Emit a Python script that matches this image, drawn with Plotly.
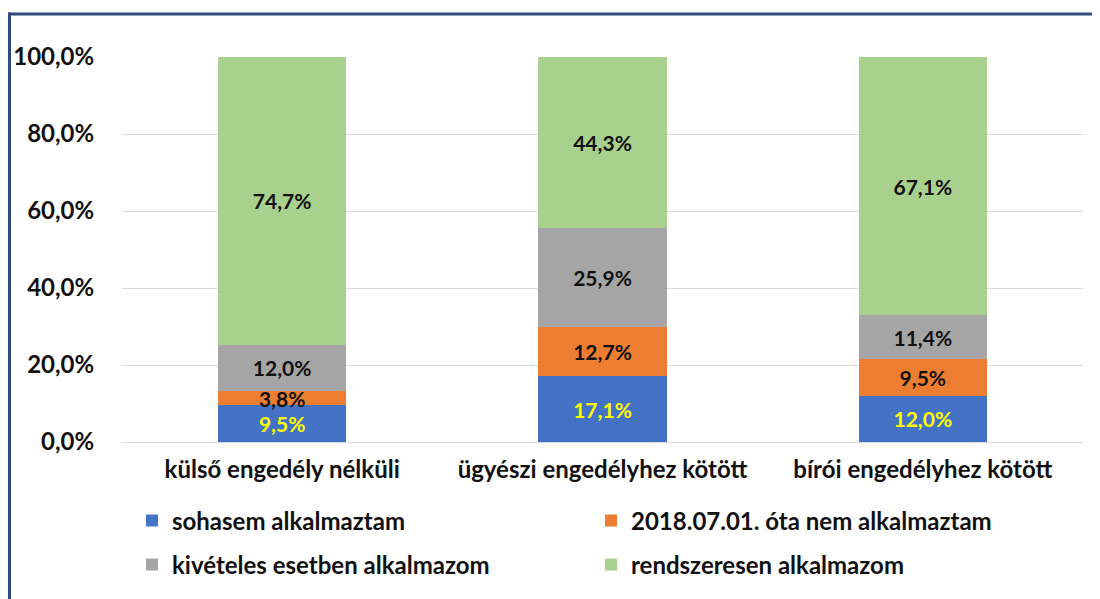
import plotly.graph_objects as go

categories = ["külső engedély nélküli", "ügyészi engedélyhez kötött", "bírói engedélyhez kötött"]
series_names = ["sohasem alkalmaztam", "2018.07.01. óta nem alkalmaztam",
                "kivételes esetben alkalmazom", "rendszeresen alkalmazom"]
sohasem = [9.5, 17.1, 12.0]
nem_2018 = [3.8, 12.7, 9.5]
kiveteles = [12.0, 25.9, 11.4]
rendszeresen = [74.7, 44.3, 67.1]
tick_vals = [0, 20, 40, 60, 80, 100]
tick_text = ["0,0%", "20,0%", "40,0%", "60,0%", "80,0%", "100,0%"]

colors = ["#4472C4", "#ED7D31", "#A5A5A5", "#A9D18E"]
label_colors = ["#FFFF00", "#111111", "#111111", "#111111"]
legends = ["legend", "legend", "legend2", "legend2"]
FONT = "Lato"

fig = go.Figure()
for name, vals, col, lc, lg in zip(series_names, [sohasem, nem_2018, kiveteles, rendszeresen],
                                   colors, label_colors, legends):
    fig.add_trace(go.Bar(
        x=categories, y=vals, name=name, marker_color=col, marker_line_width=0,
        texttemplate="%{y:.1f}%", textposition="inside", insidetextanchor="middle",
        constraintext="none",
        textfont=dict(color=lc, size=21, family=FONT, weight="bold"),
        legend=lg,
    ))

# page body has an 8px offset; target pixel positions are corrected by OFF
OFF = 8
W, H = 1100 - OFF, 599 - OFF
pw, ph = 961, 385
ml = 122 - OFF
mt = 57 - OFF
mr = W - ml - pw
mb = H - mt - ph

def px_x(x):
    return (x - OFF - ml) / pw

def px_y(y):
    return (mt + ph - (y - OFF)) / ph

frame = dict(color="#2E4B7C", width=3)
fig.update_layout(
    width=W, height=H, barmode="stack", bargap=0.6,
    separators=",.",
    paper_bgcolor="white", plot_bgcolor="white",
    margin=dict(l=ml, r=mr, t=mt, b=mb, autoexpand=False),
    font=dict(family=FONT, color="#111111", size=24),
    uniformtext=dict(minsize=21, mode="show"),
    xaxis=dict(showgrid=False, showline=False, ticks="outside", ticklen=6,
               tickcolor="rgba(0,0,0,0)",
               tickfont=dict(size=24, family=FONT, weight="bold")),
    yaxis=dict(range=[0, 100], tickvals=tick_vals, ticktext=tick_text,
               showgrid=True, gridcolor="#D9D9D9", gridwidth=1,
               zeroline=True, zerolinecolor="#D9D9D9", zerolinewidth=1,
               showline=False, ticks="outside", ticklen=22, tickcolor="rgba(0,0,0,0)",
               tickfont=dict(size=24, family=FONT, weight="bold")),
    legend=dict(orientation="h", x=px_x(132), y=px_y(521), xanchor="left", yanchor="middle",
                entrywidth=414, entrywidthmode="pixels", traceorder="normal",
                font=dict(size=24, family=FONT, weight="bold"), bgcolor="rgba(0,0,0,0)"),
    legend2=dict(orientation="h", x=px_x(132), y=px_y(565), xanchor="left", yanchor="middle",
                 entrywidth=414, entrywidthmode="pixels", traceorder="normal",
                 font=dict(size=24, family=FONT, weight="bold"), bgcolor="rgba(0,0,0,0)"),
    shapes=[
        dict(type="line", xref="paper", yref="paper",
             x0=px_x(8), x1=px_x(1100), y0=px_y(14), y1=px_y(14), line=frame, layer="above"),
        dict(type="line", xref="paper", yref="paper",
             x0=px_x(9.5), x1=px_x(9.5), y0=px_y(12.5), y1=px_y(599), line=frame, layer="above"),
    ],
)

fig.write_html("out.html", config={"displayModeBar": False})
